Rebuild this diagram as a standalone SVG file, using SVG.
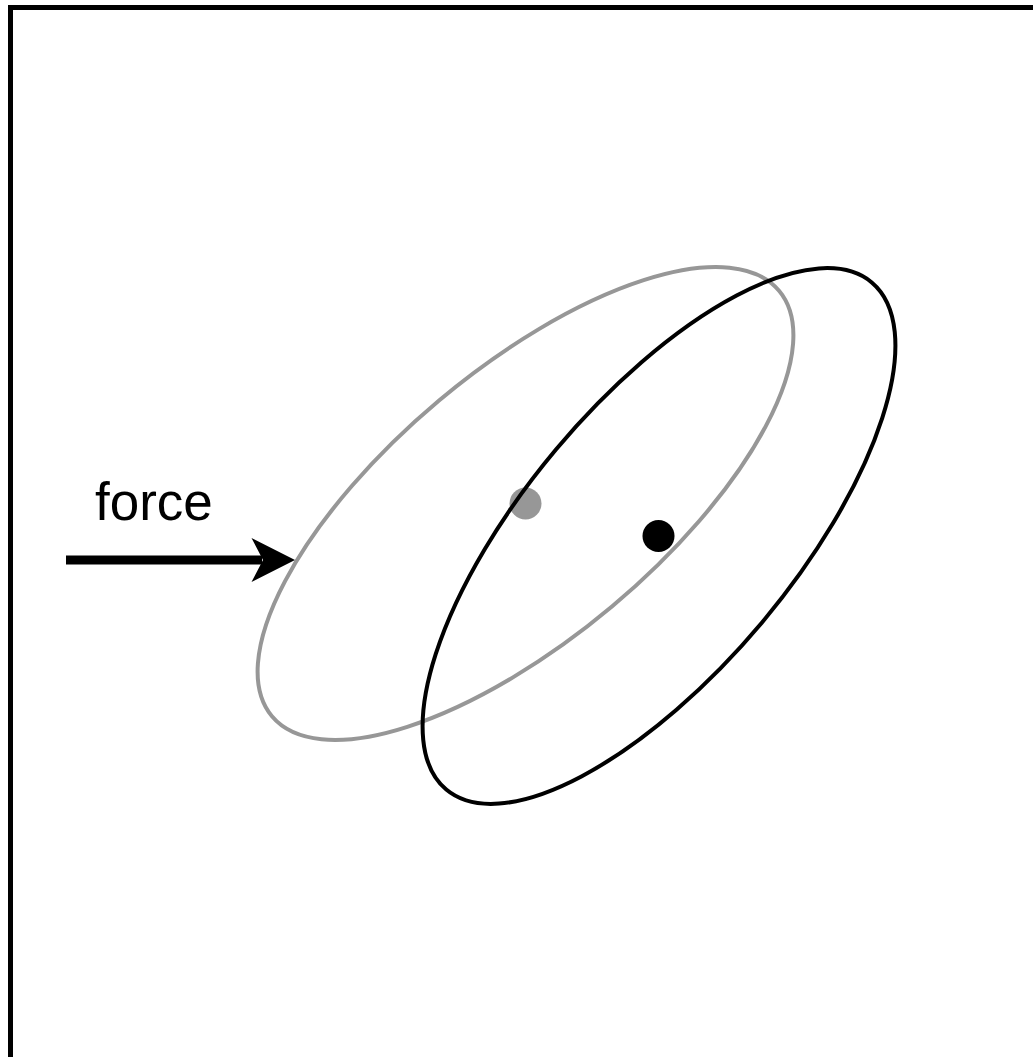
<svg xmlns="http://www.w3.org/2000/svg" width="1033" height="1057" viewBox="0 0 1033 1057">
  <style>
    .frame { fill: none; stroke: #000; stroke-width: 5; }
    .ell { fill: none; stroke-width: 4; }
    .label { font-family: "Liberation Sans", Arial, sans-serif; font-size: 53px; fill: #000; }
  </style>
  <rect width="1033" height="1057" fill="#fff"/>
  <g id="frame">
    <path class="frame" d="M10.5 1060 V7.5 H1040"/>
  </g>
  <g id="ellipse-before">
    <ellipse class="ell" cx="525.5" cy="503.5" rx="331" ry="134.5" stroke="#979797" transform="rotate(-40 525.5 503.5)"/>
    <circle cx="525.5" cy="503.5" r="16" fill="#979797"/>
  </g>
  <g id="ellipse-after">
    <ellipse class="ell" cx="659" cy="536" rx="331" ry="134.5" stroke="#000" stroke-width="4.5" transform="rotate(-50 659 536)"/>
    <circle cx="658.5" cy="536" r="16" fill="#000"/>
  </g>
  <g id="force-label">
    <text class="label" x="95" y="520">force</text>
  </g>
  <g id="connectors">
    <line x1="66" y1="560" x2="262" y2="560" stroke="#000" stroke-width="9"/>
    <polygon points="251.5,538 295,560 251.5,582 263,560" fill="#000"/>
  </g>
</svg>
